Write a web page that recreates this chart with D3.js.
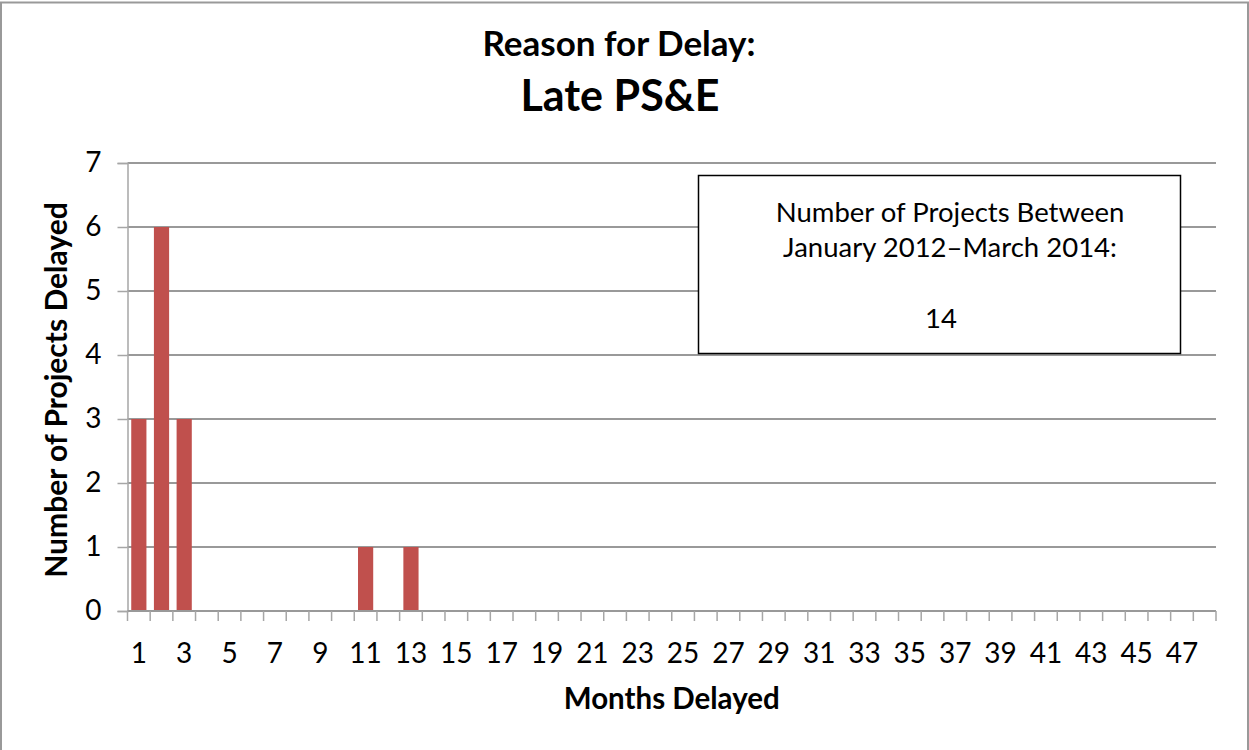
<!DOCTYPE html>
<html>
<head>
<meta charset="utf-8">
<script src="https://cdn.jsdelivr.net/npm/d3@7"></script>
<style>
  body { margin: 0; background: #fff; }
  text { font-family: Lato, "Open Sans", sans-serif; fill: #000; }
</style>
</head>
<body>
<div id="chart"></div>
<script>
// Data
let months = [1, 2, 3, 4, 5, 6, 7, 8, 9, 10, 11, 12, 13, 14, 15, 16, 17, 18, 19, 20,
    21, 22, 23, 24, 25, 26, 27, 28, 29, 30, 31, 32, 33, 34, 35, 36, 37, 38, 39, 40,
    41, 42, 43, 44, 45, 46, 47, 48];
let projectsDelayed = [3, 6, 3, 0, 0, 0, 0, 0, 0, 0, 1, 0, 1, 0, 0, 0, 0, 0, 0, 0,
    0, 0, 0, 0, 0, 0, 0, 0, 0, 0, 0, 0, 0, 0, 0, 0, 0, 0, 0, 0,
    0, 0, 0, 0, 0, 0, 0, 0];
let yTicks = [0, 1, 2, 3, 4, 5, 6, 7];
let boxLines = ["Number of Projects Between", "January 2012\u2013March 2014:"];
let boxTotal = "14";

let width = 1249;
let height = 750;
let plot = {left: 127.5, right: 1216, top: 163, bottom: 611};

// Colors
let barColor = '#C0504D';
let gridColor = '#999999';
let axisColor = '#a6a6a6';

let svg = d3.select("#chart")
    .append("svg")
    .attr("width", width)
    .attr("height", height);

// chart frame
svg.append("rect")
    .attr("x", 1)
    .attr("y", 2.5)
    .attr("width", width - 2)
    .attr("height", height + 40)
    .attr("fill", "white")
    .attr("stroke", "#999")
    .attr("stroke-width", 2);

let xScale = d3.scaleBand()
    .domain(months)
    .range([plot.left, plot.right])
    .paddingInner(0.33)
    .paddingOuter(0.165);

let yScale = d3.scaleLinear()
    .domain([0, 7])
    .range([plot.bottom, plot.top]);

// gridlines
svg.append("g")
    .attr("class", "grid")
    .selectAll("line")
    .data(yTicks.filter(d => d > 0))
    .enter()
    .append("line")
    .attr("x1", plot.left)
    .attr("x2", plot.right)
    .attr("y1", d => yScale(d))
    .attr("y2", d => yScale(d))
    .attr("stroke", gridColor)
    .attr("stroke-width", 2);

// bars
svg.append("g")
    .selectAll(".bar")
    .data(months.map((m, i) => ({month: m, value: projectsDelayed[i]})))
    .enter()
    .append("rect")
    .attr("class", "bar")
    .attr("x", d => xScale(d.month))
    .attr("width", xScale.bandwidth())
    .attr("y", d => yScale(d.value))
    .attr("height", d => yScale(0) - yScale(d.value))
    .attr("fill", barColor);

// y axis
let yAxis = svg.append("g")
    .attr("transform", "translate(" + plot.left + ",0)")
    .call(d3.axisLeft(yScale).tickValues(yTicks).tickSize(10).tickPadding(16).tickFormat(d3.format("d")));
yAxis.select(".domain").attr("stroke", axisColor).attr("stroke-width", 1.5);
yAxis.selectAll(".tick line").attr("stroke", axisColor).attr("stroke-width", 1.5);
yAxis.selectAll(".tick text")
    .style("font-size", "28px")
    .style("font-family", "Lato, sans-serif")
    .attr("fill", "#000");

// x axis (ticks sit between categories)
let step = xScale.step();
let boundaries = d3.range(months.length + 1).map(i => plot.left + i * step);
let xAxis = svg.append("g");
xAxis.append("line")
    .attr("x1", plot.left)
    .attr("x2", plot.right)
    .attr("y1", plot.bottom)
    .attr("y2", plot.bottom)
    .attr("stroke", gridColor)
    .attr("stroke-width", 2);
xAxis.selectAll(".xtick")
    .data(boundaries)
    .enter()
    .append("line")
    .attr("class", "xtick")
    .attr("x1", d => d)
    .attr("x2", d => d)
    .attr("y1", plot.bottom)
    .attr("y2", plot.bottom + 10)
    .attr("stroke", axisColor)
    .attr("stroke-width", 1.5);
xAxis.selectAll(".xlabel")
    .data(months.filter(m => m % 2 == 1))
    .enter()
    .append("text")
    .attr("class", "xlabel")
    .attr("x", d => xScale(d) + xScale.bandwidth() / 2)
    .attr("y", 663)
    .attr("text-anchor", "middle")
    .style("font-size", "28px")
    .text(d => d);

// axis titles
svg.append("text")
    .attr("x", (plot.left + plot.right) / 2)
    .attr("y", 709)
    .attr("text-anchor", "middle")
    .style("font-size", "29.5px")
    .style("font-weight", "bold")
    .text("Months Delayed");

svg.append("text")
    .attr("transform", "translate(67," + 390 + ") rotate(-90)")
    .attr("text-anchor", "middle")
    .style("font-size", "30px")
    .style("font-weight", "bold")
    .text("Number of Projects Delayed");

// chart title
svg.append("text")
    .attr("x", 619)
    .attr("y", 56)
    .attr("text-anchor", "middle")
    .style("font-size", "35px")
    .style("font-weight", "bold")
    .text("Reason for Delay:");
svg.append("text")
    .attr("x", 620)
    .attr("y", 111)
    .attr("text-anchor", "middle")
    .style("font-size", "43px")
    .style("font-weight", "bold")
    .text("Late PS&E");

// annotation box
let box = svg.append("g");
box.append("rect")
    .attr("x", 698.5)
    .attr("y", 175.5)
    .attr("width", 482)
    .attr("height", 178)
    .attr("fill", "white")
    .attr("stroke", "#000")
    .attr("stroke-width", 1.5);
box.selectAll(".boxline")
    .data(boxLines)
    .enter()
    .append("text")
    .attr("class", "boxline")
    .attr("x", 950)
    .attr("y", (d, i) => 222 + i * 35)
    .attr("text-anchor", "middle")
    .style("font-size", "27.5px")
    .text(d => d);
box.append("text")
    .attr("x", 941)
    .attr("y", 328)
    .attr("text-anchor", "middle")
    .style("font-size", "27.5px")
    .text(boxTotal);
</script>
</body>
</html>
